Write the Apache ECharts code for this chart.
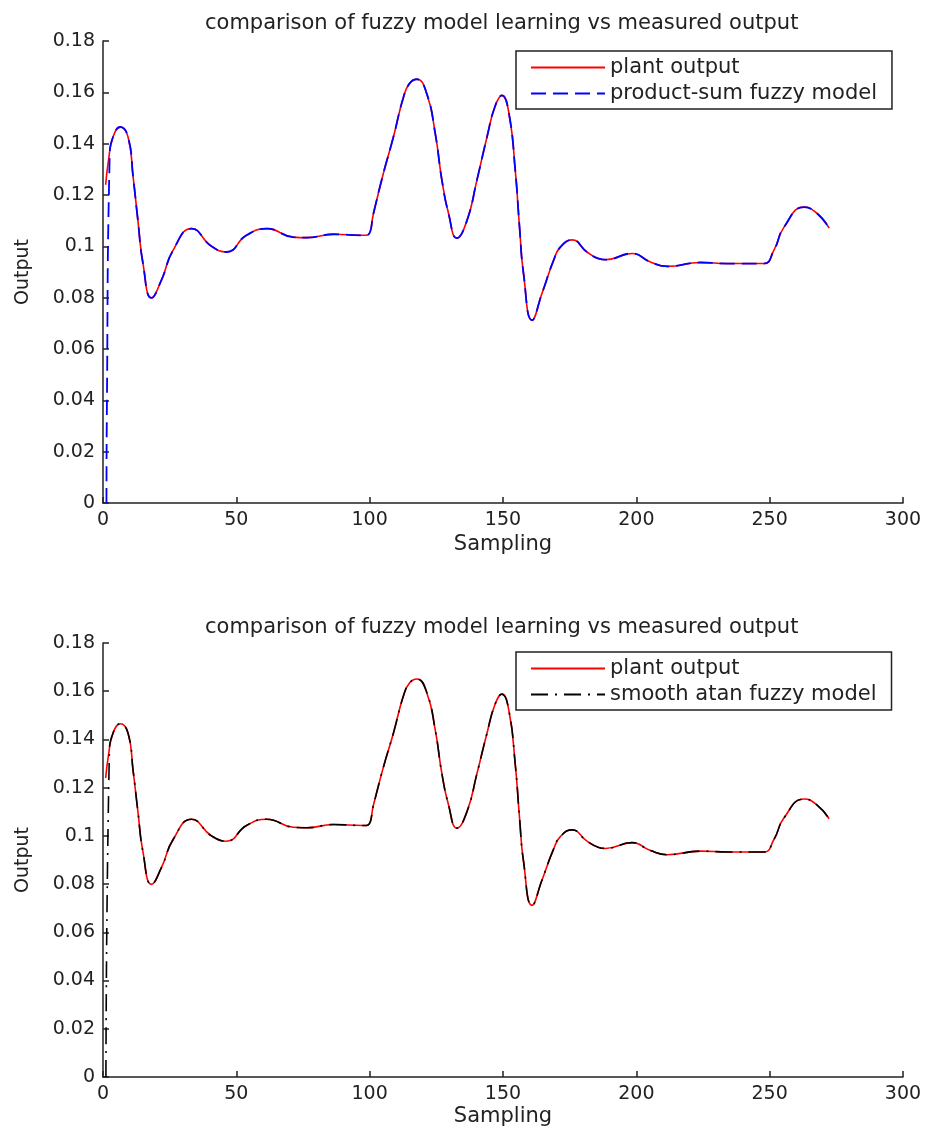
<!DOCTYPE html>
<html>
<head>
<meta charset="utf-8">
<script src="https://cdn.jsdelivr.net/npm/echarts@6/dist/echarts.min.js"></script>
<style>html,body{margin:0;padding:0;background:#fff}#c{width:925px;height:1131px}</style>
</head>
<body>
<div id="c"></div>
<script>
var titleText = 'comparison of fuzzy model learning vs measured output';
var xTicks = { min: 0, max: 300, interval: 50 };
var yTicks = { min: 0, max: 0.18, interval: 0.02 };

var plantX = [1, 2, 3.75, 6.5, 9.4, 11.3, 13.1, 15, 18.2, 21.9, 26.3, 33.2, 40.7, 46.3, 53.8, 61.4, 71.3, 76.4, 86.4, 97.6, 99.5, 101.4, 105.1, 108.9, 112.7, 115, 117.7, 121.4, 124.6, 127.1, 129.6, 132.7, 136.5, 140.2, 144, 147, 149.6, 152.2, 154.6, 156.2, 157.7, 160.9, 164.6, 169, 171.5, 175.9, 181.5, 185.9, 188.4, 198.4, 205.3, 211.6, 224.1, 234.1, 247.8, 251.6, 255.4, 262.9, 267.9, 272.3];
var plantY = [0.124, 0.133, 0.1426, 0.1465, 0.1426, 0.127, 0.110, 0.0933, 0.0799, 0.0868, 0.0985, 0.1069, 0.1000, 0.0978, 0.1043, 0.1069, 0.1036, 0.1034, 0.1047, 0.1043, 0.1046, 0.1127, 0.1283, 0.1426, 0.1582, 0.1635, 0.1651, 0.1595, 0.1439, 0.1257, 0.1127, 0.1032, 0.1101, 0.1257, 0.1426, 0.1545, 0.1588, 0.1520, 0.1296, 0.1075, 0.0894, 0.0712, 0.0816, 0.0946, 0.0997, 0.1025, 0.0978, 0.0952, 0.0948, 0.0972, 0.0939, 0.0922, 0.0937, 0.0933, 0.0933, 0.0985, 0.1075, 0.1153, 0.1127, 0.1071];

// model start-up samples (before they follow the plant output)
var productSumStartX = [1.3, 1.45, 2.5];
var productSumStartY = [0, 0.036, 0.135];
var smoothAtanStartX = [1.1, 2.4];
var smoothAtanStartY = [0, 0.135];

function pairs(xs, ys) { return xs.map(function (x, i) { return [x, ys[i]]; }); }
function model(sx, sy) {
  var p = pairs(sx, sy);
  plantX.forEach(function (x, i) { if (x >= 3.75) p.push([x, plantY[i]]); });
  return p;
}
var plantData = pairs(plantX, plantY);
var productSumData = model(productSumStartX, productSumStartY);
var smoothAtanData = model(smoothAtanStartX, smoothAtanStartY);

var FONT = 'DejaVu Sans';
var chart = echarts.init(document.getElementById('c'), null, { renderer: 'canvas' });

function xAxis(idx, gap) {
  return {
    type: 'value', gridIndex: idx, min: xTicks.min, max: xTicks.max, interval: xTicks.interval,
    name: 'Sampling', nameLocation: 'middle', nameGap: gap,
    nameTextStyle: { fontFamily: FONT, fontSize: 21, color: '#222' },
    axisLine: { show: true, lineStyle: { color: '#222', width: 1.5 } },
    axisTick: { show: true, inside: true, length: 6, lineStyle: { color: '#222', width: 1.5 } },
    axisLabel: { fontFamily: FONT, fontSize: 19, color: '#222', margin: 8 },
    splitLine: { show: false }
  };
}
function yAxis(idx) {
  return {
    type: 'value', gridIndex: idx, min: yTicks.min, max: yTicks.max, interval: yTicks.interval,
    name: 'Output', nameLocation: 'middle', nameGap: 70, nameRotate: 90,
    nameTextStyle: { fontFamily: FONT, fontSize: 19, color: '#222' },
    axisLine: { show: true, lineStyle: { color: '#222', width: 1.5 } },
    axisTick: { show: true, inside: true, length: 6, lineStyle: { color: '#222', width: 1.5 } },
    axisLabel: { fontFamily: FONT, fontSize: 19, color: '#222', margin: 8 },
    splitLine: { show: false }
  };
}
function legend(top, names) {
  return {
    data: names, orient: 'vertical', left: 516, top: top,
    backgroundColor: '#fff', borderColor: '#222', borderWidth: 1.5,
    padding: [6, 15, 5, 14], itemGap: 5, itemWidth: 74, itemHeight: 14,
    itemStyle: { opacity: 0 },
    textStyle: { fontFamily: FONT, fontSize: 21, color: '#222' }
  };
}
var plantStyle = { color: '#ff0000', width: 1.6, type: 'solid' };
var SM = 0.5;

chart.setOption({
  animation: false,
  backgroundColor: '#fff',
  title: [
    { text: titleText, left: 200, top: 8, textStyle: { fontFamily: FONT, fontSize: 21, fontWeight: 'normal', color: '#222' } },
    { text: titleText, left: 200, top: 612, textStyle: { fontFamily: FONT, fontSize: 21, fontWeight: 'normal', color: '#222' } }
  ],
  grid: [
    { left: 103, top: 41, width: 800, height: 462 },
    { left: 103, top: 643, width: 800, height: 434 }
  ],
  xAxis: [xAxis(0, 31), xAxis(1, 29)],
  yAxis: [yAxis(0), yAxis(1)],
  legend: [
    legend(51, ['plant output', 'product-sum fuzzy model']),
    legend(652, ['plant output ', 'smooth atan fuzzy model'])
  ],
  series: [
    { name: 'plant output', type: 'line', xAxisIndex: 0, yAxisIndex: 0, data: plantData, smooth: SM, symbol: 'none', color: '#ff0000', lineStyle: plantStyle },
    { name: 'product-sum fuzzy model', type: 'line', xAxisIndex: 0, yAxisIndex: 0, data: productSumData, smooth: SM, symbol: 'none', color: '#0000ff', lineStyle: { color: '#0000ff', width: 1.8, type: [15, 7] } },
    { name: 'plant output ', type: 'line', xAxisIndex: 1, yAxisIndex: 1, data: plantData, smooth: SM, symbol: 'none', color: '#ff0000', lineStyle: plantStyle },
    { name: 'smooth atan fuzzy model', type: 'line', xAxisIndex: 1, yAxisIndex: 1, data: smoothAtanData, smooth: SM, symbol: 'none', color: '#000000', lineStyle: { color: '#000000', width: 1.6, type: [17, 7, 2, 7] } }
  ]
});
</script>
</body>
</html>
